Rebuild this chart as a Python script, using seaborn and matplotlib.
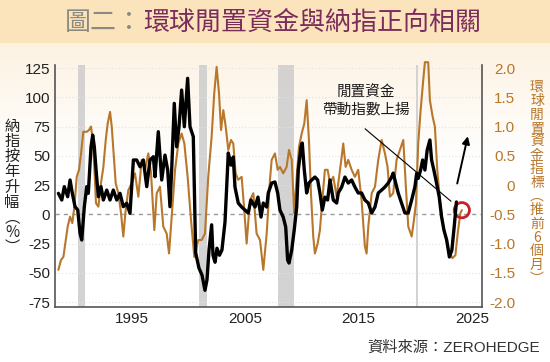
import matplotlib
matplotlib.use("Agg")
import matplotlib.pyplot as plt
import numpy as np
import pandas as pd
import seaborn as sns

# 納指按年升幅 (%) -- (year, value)
nasdaq_pts = [
    (1988.50, 17.9), (1988.80, 12.2), (1989.02, 23.6), (1989.32, 15.0), (1989.53, 29.3),
    (1989.73, 17.9), (1989.97, 6.5), (1990.21, 3.6), (1990.41, -16.3), (1990.56, -22.0),
    (1990.79, 6.5), (1991.00, 23.6), (1991.14, 17.9), (1991.38, 57.7), (1991.53, 67.7),
    (1991.67, 57.7), (1991.85, 35.0), (1992.03, 15.0), (1992.26, 23.6), (1992.47, 12.2),
    (1992.77, 20.7), (1993.06, 12.2), (1993.35, 20.7), (1993.65, 12.2), (1993.94, 17.9),
    (1994.23, 6.5), (1994.53, 9.4), (1994.82, 0.8), (1995.12, 46.4), (1995.41, 46.4),
    (1995.71, 40.6), (1996.00, 46.4), (1996.30, 23.6), (1996.59, 46.4), (1996.88, 49.2),
    (1997.03, 32.1), (1997.32, 70.6), (1997.62, 29.3), (1997.91, 50.6), (1998.15, 37.8),
    (1998.35, 6.5), (1998.50, 37.8), (1998.73, 94.8), (1998.94, 57.7), (1999.15, 74.8),
    (1999.38, 106.2), (1999.62, 74.8), (1999.91, 116.2), (2000.12, 74.8), (2000.41, 66.3),
    (2000.62, -33.0), (2000.91, -46.0), (2001.18, -52.0), (2001.44, -65.0), (2001.62, -56.0),
    (2001.80, -30.5), (2002.03, -9.0), (2002.15, -35.0), (2002.33, -41.0), (2002.50, -29.0),
    (2002.72, -35.0), (2002.94, -30.5), (2003.21, -6.6), (2003.50, 52.4), (2003.74, 42.0),
    (2003.94, 49.0), (2004.09, 23.3), (2004.38, 9.6), (2004.68, 6.2), (2004.97, 3.6),
    (2005.26, 1.1), (2005.50, 12.2), (2005.86, 6.2), (2006.12, 14.7), (2006.39, -2.4),
    (2006.59, 9.6), (2006.89, 6.2), (2007.03, 18.2), (2007.33, 26.7), (2007.62, 27.6),
    (2007.86, 18.2), (2008.06, 3.6), (2008.35, -2.4), (2008.57, -10.9), (2008.74, -39.1),
    (2008.86, -41.7), (2009.10, -30.6), (2009.32, -13.5), (2009.54, 6.2), (2009.68, 37.8),
    (2009.92, 57.5), (2010.03, 60.9), (2010.21, 37.8), (2010.42, 18.2), (2010.62, 26.7),
    (2010.86, 29.3), (2011.15, 31.8), (2011.39, 29.3), (2011.59, 18.2), (2011.80, 3.6),
    (2012.03, 14.7), (2012.27, 12.2), (2012.48, 29.3), (2012.77, 12.2), (2013.07, 9.6),
    (2013.21, 18.2), (2013.51, 23.3), (2013.80, 31.8), (2014.09, 26.7), (2014.39, 29.3),
    (2014.68, 23.3), (2014.97, 18.2), (2015.27, 18.2), (2015.56, 12.2), (2015.86, 9.6),
    (2016.16, 1.1), (2016.45, 6.2), (2016.74, 18.2), (2017.04, 20.7), (2017.33, 23.3),
    (2017.62, 26.7), (2017.92, 31.8), (2018.06, 35.2), (2018.21, 29.3), (2018.50, 18.2),
    (2018.80, 9.6), (2019.09, 1.1), (2019.38, 1.1), (2019.69, 12.2), (2019.98, 23.6),
    (2020.13, 35.0), (2020.27, 30.7), (2020.48, 37.8), (2020.66, 46.4), (2020.86, 37.8),
    (2021.06, 54.9), (2021.30, 63.5), (2021.45, 46.4), (2021.65, 37.8), (2021.89, 26.5),
    (2022.12, 15.0), (2022.33, -2.1), (2022.54, -13.5), (2022.78, -22.0), (2023.02, -36.5),
    (2023.24, -30.6), (2023.46, -9.2), (2023.64, 10.5),
]

# 環球閒置資金指標 (推前6個月) -- (year, value)
liquidity_pts = [
    (1988.50, -1.45), (1988.73, -1.28), (1988.94, -1.23), (1989.15, -0.94), (1989.32, -0.71),
    (1989.53, -0.54), (1989.73, -0.65), (1989.91, -0.37), (1990.12, 0.14), (1990.32, 0.26),
    (1990.50, 0.54), (1990.70, 0.91), (1991.00, 0.91), (1991.20, 0.94), (1991.38, 1.00),
    (1991.53, 0.77), (1991.67, 0.31), (1991.82, -0.31), (1992.03, -0.37), (1992.26, 0.03),
    (1992.47, 0.31), (1992.68, 0.77), (1992.85, 1.05), (1993.06, 1.25), (1993.21, 1.00),
    (1993.38, 0.54), (1993.56, 0.03), (1993.79, -0.14), (1994.03, -0.48), (1994.23, -0.88),
    (1994.44, -0.43), (1994.67, -0.09), (1994.97, 0.03), (1995.26, 0.20), (1995.56, -0.20),
    (1995.85, 0.43), (1996.15, 0.26), (1996.44, 0.54), (1996.68, 0.20), (1996.97, -0.77),
    (1997.18, -0.14), (1997.47, -0.03), (1997.76, -0.71), (1998.06, -0.83), (1998.27, -1.17),
    (1998.50, -0.54), (1998.80, 0.26), (1999.09, 0.71), (1999.38, 0.88), (1999.62, 0.71),
    (1999.91, 0.14), (2000.21, -0.60), (2000.50, -1.23), (2000.85, -0.94), (2001.15, -0.94),
    (2001.44, -0.83), (2001.73, 0.14), (2002.03, 0.83), (2002.26, 1.57), (2002.47, 2.02),
    (2002.68, 1.57), (2002.86, 0.94), (2003.06, 1.28), (2003.27, 1.00), (2003.50, 0.60),
    (2003.74, 0.77), (2003.94, 0.71), (2004.15, 0.20), (2004.38, 0.09), (2004.68, 0.14),
    (2004.91, -0.43), (2005.12, -1.00), (2005.41, -0.26), (2005.71, -0.14), (2006.00, -0.83),
    (2006.30, -0.94), (2006.59, -1.45), (2006.89, -0.83), (2007.18, 0.09), (2007.33, 0.43),
    (2007.62, 0.54), (2007.86, 0.26), (2008.06, 0.31), (2008.35, 0.20), (2008.65, 0.31),
    (2008.86, 0.60), (2009.10, 0.43), (2009.32, -0.48), (2009.54, 0.14), (2009.74, 0.65),
    (2009.98, 0.88), (2010.21, 1.05), (2010.42, 1.45), (2010.62, 0.77), (2010.80, -0.14),
    (2011.00, -0.88), (2011.15, -1.17), (2011.39, -1.00), (2011.59, -0.77), (2011.80, -0.26),
    (2012.03, 0.26), (2012.27, 0.26), (2012.48, 0.03), (2012.77, 0.14), (2013.07, -0.20),
    (2013.21, 0.03), (2013.51, 0.48), (2013.65, 0.71), (2013.86, 0.31), (2014.09, 0.43),
    (2014.39, 0.26), (2014.68, 0.14), (2014.97, 0.26), (2015.27, -0.26), (2015.56, -1.05),
    (2015.71, -1.17), (2015.86, -0.71), (2016.16, -0.14), (2016.45, -0.03), (2016.74, 0.43),
    (2017.04, 0.77), (2017.33, 0.54), (2017.56, 0.31), (2017.77, -0.20), (2018.06, -0.14),
    (2018.36, 0.43), (2018.65, 0.60), (2018.95, 0.77), (2019.16, 0.03), (2019.39, -0.71),
    (2019.69, -0.88), (2019.89, -0.60), (2020.07, -0.31), (2020.27, 0.71), (2020.48, 1.28),
    (2020.71, 1.79), (2020.86, 2.10), (2021.15, 2.10), (2021.30, 1.45), (2021.54, 1.17),
    (2021.74, 1.00), (2021.95, 0.26), (2022.18, -0.26), (2022.47, -0.71), (2022.78, -0.94),
    (2023.02, -1.15), (2023.29, -1.25), (2023.55, -1.20), (2023.77, -0.80), (2023.99, -0.48),
    (2024.12, -0.43),
]

# 衰退期 (灰色區域)
recessions = [(1990.2, 1990.85), (2000.95, 2001.6), (2007.85, 2009.3), (2020.1, 2020.25)]

left_ticks = [125, 100, 75, 50, 25, 0, -25, -50, -75]
right_ticks = [2.0, 1.5, 1.0, 0.5, 0.0, -0.5, -1.0, -1.5, -2.0]
right_labels = ["2.0", "1.5", "1.0", "0.5", "0", "-0.5", "-1.0", "-1.5", "-2.0"]
x_ticks = [1995, 2005, 2015, 2025]

title_gray = "圖二："
title_main = "環球閒置資金與納指正向相關"
left_label = "納指按年升幅︵%︶"
right_label = "環球閒置資金指標︵推前6個月︶"
note_text = "閒置資金\n帶動指數上揚"
source_text = "資料來源：ZEROHEDGE"

nasdaq = pd.DataFrame(nasdaq_pts, columns=["year", "yoy"])
liquidity = pd.DataFrame(liquidity_pts, columns=["year", "idx"])

sns.set_style("white")
plt.rcParams["font.family"] = ["Liberation Sans", "Noto Sans CJK TC", "DejaVu Sans"]

ORANGE = "#B8772A"
W, H = 550, 362

fig = plt.figure(figsize=(5.5, 3.62), dpi=100)

# 背景: 標題色帶 + 漸變
grad = np.ones((H, 1, 3))
band = np.array([251, 228, 188]) / 255
top_tint = np.array([253, 242, 226]) / 255
for i in range(H):
    if i < 43:
        grad[i, 0] = band
    elif i < 160:
        t = (i - 43) / (160 - 43)
        grad[i, 0] = top_tint * (1 - t) + np.ones(3) * t
bg = fig.add_axes([0, 0, 1, 1], zorder=-10)
bg.imshow(grad, aspect="auto", extent=[0, 1, 0, 1])
bg.axis("off")

ax = fig.add_axes([55 / W, 1 - 306.7 / H, (482 - 55) / W, (306.7 - 65) / H])
ax2 = ax.twinx()
ax.set_zorder(ax2.get_zorder() + 1)
ax.patch.set_visible(False)
ax2.patch.set_visible(False)

xlim = (1988.2, 2025.9)
ax.set_xlim(xlim)
ax.set_ylim(-79, 127.6)
ax2.set_ylim((-79 - 25) / 50, (127.6 - 25) / 50)

# 衰退期及格線
for a, b in recessions:
    ax2.axvspan(a, b, color="#CFCFCF", alpha=0.9, lw=0, zorder=0)
for t in right_ticks:
    if t == -0.5:
        ax2.axhline(t, color="#9A9A9A", lw=1.0, ls=(0, (3, 3)), zorder=1)
    else:
        ax2.axhline(t, color="#E3E3E3", lw=0.8, ls=(0, (1, 2)), zorder=1)

sns.lineplot(data=liquidity, x="year", y="idx", ax=ax2, color=ORANGE, lw=1.5,
             estimator=None, sort=False, clip_on=False, zorder=3)
sns.lineplot(data=nasdaq, x="year", y="yoy", ax=ax, color="black", lw=2.4,
             estimator=None, sort=False, zorder=3)

# 紅圈標記最新值
last = liquidity.iloc[-1]
ax2.scatter([last["year"]], [last["idx"]], s=120, facecolors="none",
            edgecolors="#C8202A", linewidths=2.0, zorder=5)

# 註解
ax.text(2015.65, 96.4, note_text, ha="center", va="center", fontsize=10.5,
        color="#1a1a1a", linespacing=1.25, family=["Noto Sans CJK TC"])
ax.annotate("", xy=(2023.35, 9.6), xytext=(2015.39, 74.6),
            arrowprops=dict(arrowstyle="-", lw=0.8, color="black"))
ax.annotate("", xy=(2024.7, 69), xytext=(2023.66, 24),
            arrowprops=dict(arrowstyle="-|>", lw=1.4, color="black", mutation_scale=11))

# 軸設定
ax.set_xticks(x_ticks)
ax.set_xticklabels([str(x) for x in x_ticks], fontsize=11, color="#222222")
ax.set_yticks(left_ticks)
ax.set_yticklabels([str(t) for t in left_ticks], fontsize=11, color="#222222")
ax2.set_yticks(right_ticks)
ax2.set_yticklabels(right_labels, fontsize=11, color=ORANGE)
for lab in ax2.get_yticklabels():
    lab.set_horizontalalignment("right")
ax.tick_params(axis="y", length=0, pad=3.6)
ax.tick_params(axis="x", length=0, pad=4)
ax2.tick_params(axis="y", length=0, pad=23.8)
ax.set_xlabel("")
ax.set_ylabel("")
ax2.set_ylabel("")

for s in ["top", "right"]:
    ax.spines[s].set_visible(False)
for s in ["top", "left", "bottom"]:
    ax2.spines[s].set_visible(False)
for sp in [ax.spines["left"], ax.spines["bottom"], ax2.spines["right"]]:
    sp.set_color("#555555")
    sp.set_linewidth(1.2)

# 標題
fig.text(65 / W, 1 - 22 / H, title_gray, ha="left", va="center", fontsize=18.7,
         color="#8A8A82", family=["Noto Sans CJK TC"])
fig.text(143 / W, 1 - 22 / H, title_main, ha="left", va="center", fontsize=18.7,
         color="#7A2C5C", family=["Noto Sans CJK TC"])

# 縱向軸標題
fig.text(12 / W, 1 - 187 / H, "\n".join(left_label), ha="center", va="center",
         fontsize=11, color="#222222", linespacing=0.86, family=["Noto Sans CJK TC"])
fig.text(537 / W, 1 - 183 / H, "\n".join(right_label), ha="center", va="center",
         fontsize=10, color=ORANGE, linespacing=0.97, family=["Noto Sans CJK TC"])

fig.text(540 / W, 1 - 348 / H, source_text, ha="right", va="center", fontsize=11,
         color="#333333")

fig.savefig("out.png", dpi=100)
